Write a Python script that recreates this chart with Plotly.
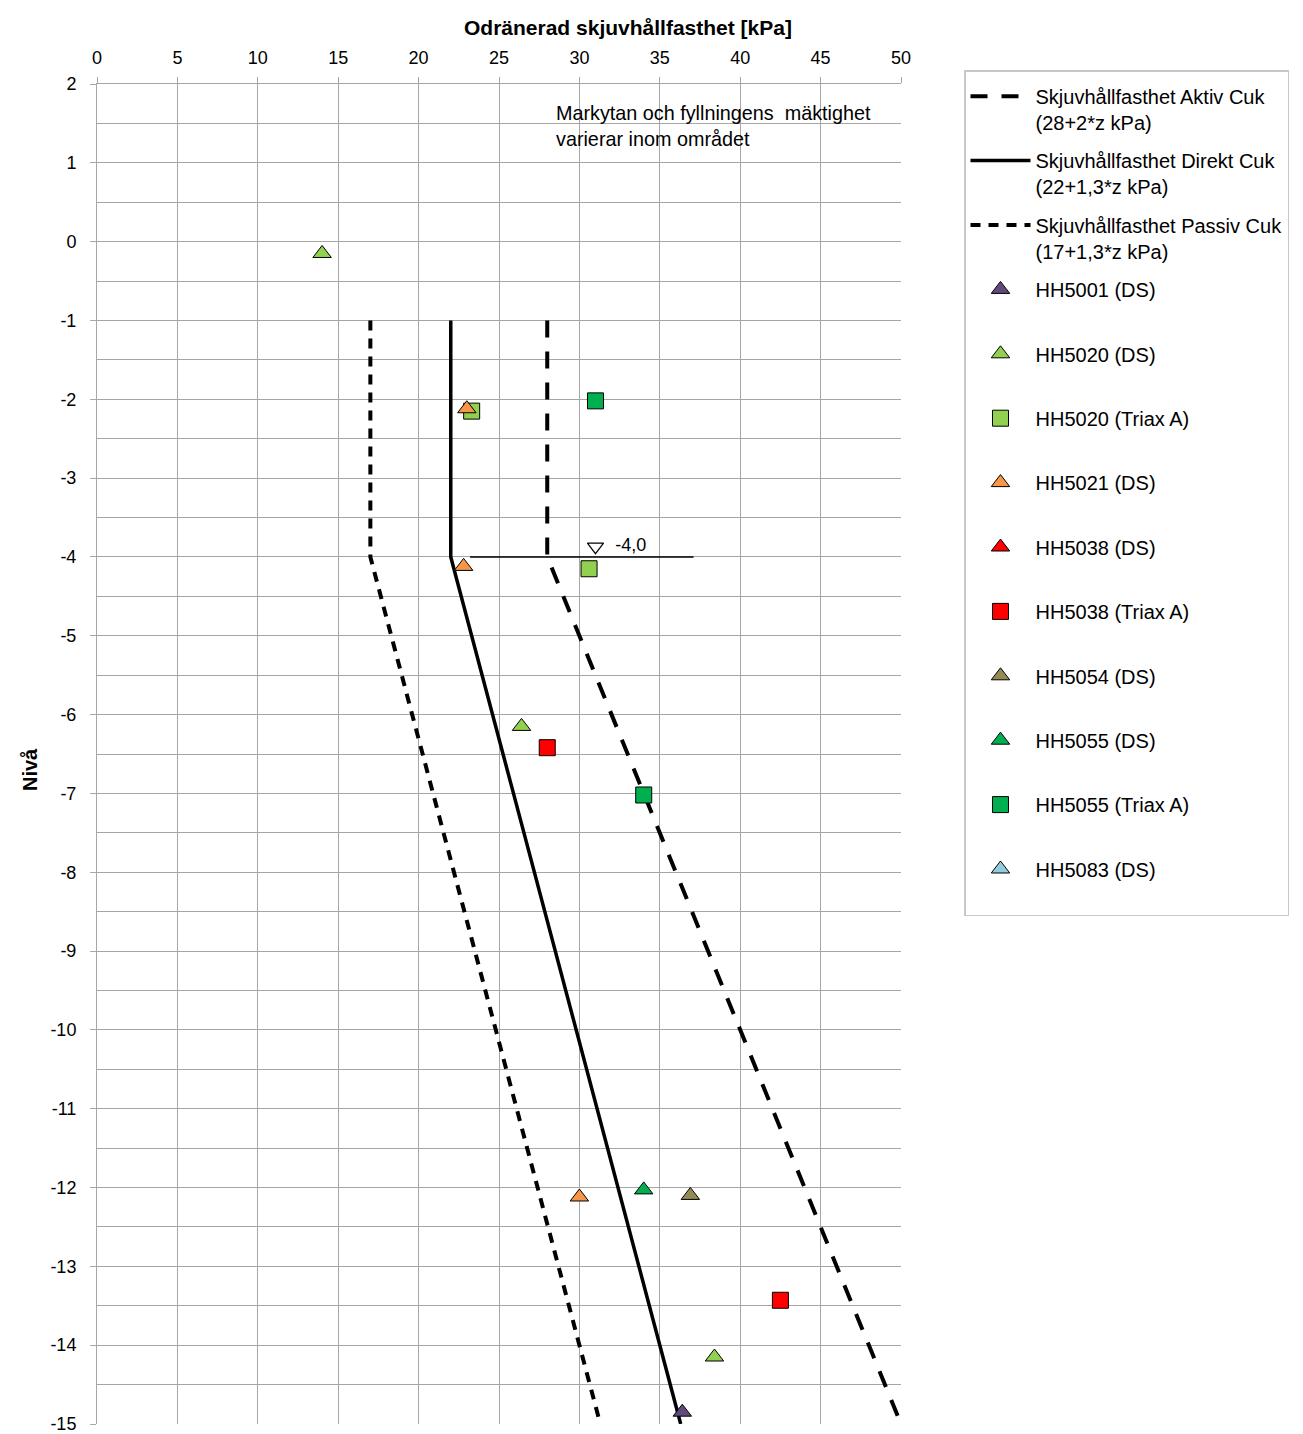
import plotly.graph_objects as go

# ---------------- data ----------------
x_ticks = [0, 5, 10, 15, 20, 25, 30, 35, 40, 45, 50]
y_ticks = [2, 1, 0, -1, -2, -3, -4, -5, -6, -7, -8, -9, -10, -11, -12, -13, -14, -15]
y_tick_labels = ["2", "1", "0", "-1", "-2", "-3", "-4", "-5", "-6", "-7", "-8",
                 "-9", "-10", "-11", "-12", "-13", "-14", "-15"]

level = [-1, -4, -15]
aktiv_cu = [28, 28, 50]
direkt_cu = [22, 22, 36.3]
passiv_cu = [17, 17, 31.3]

hh5001_ds_x = [36.4]
hh5001_ds_y = [-14.85]
hh5020_ds_x = [14.0, 26.4, 38.4]
hh5020_ds_y = [-0.15, -6.15, -14.15]
hh5020_tx_x = [23.3, 30.6]
hh5020_tx_y = [-2.15, -4.15]
hh5021_ds_x = [23.0, 22.8, 30.0]
hh5021_ds_y = [-2.12, -4.12, -12.12]
hh5038_ds_x = []
hh5038_ds_y = []
hh5038_tx_x = [28.0, 42.5]
hh5038_tx_y = [-6.42, -13.43]
hh5054_ds_x = [36.9]
hh5054_ds_y = [-12.1]
hh5055_ds_x = [34.0]
hh5055_ds_y = [-12.03]
hh5055_tx_x = [31.0, 34.0]
hh5055_tx_y = [-2.02, -7.02]
hh5083_ds_x = []
hh5083_ds_y = []

gw_line_x = [23.2, 37.1]
gw_level = -4.0
gw_marker_x = [31.0]
gw_marker_y = [-3.87]
gw_label = "-4,0"

note_text = "Markytan och fyllningens  mäktighet<br>varierar inom området"
x_title = "Odränerad skjuvhållfasthet [kPa]"
y_title = "Nivå"

# ---------------- figure ----------------
FONT = "Liberation Sans, Arial, sans-serif"
fig = go.Figure()

line_specs = [
    ("Skjuvhållfasthet Aktiv Cuk<br>(28+2*z kPa)", aktiv_cu, dict(color="black", width=4, dash="17px,14px")),
    ("Skjuvhållfasthet Direkt Cuk<br>(22+1,3*z kPa)", direkt_cu, dict(color="black", width=3.5)),
    ("Skjuvhållfasthet Passiv Cuk<br>(17+1,3*z kPa)", passiv_cu, dict(color="black", width=4, dash="10px,8px")),
]
for i, (name, xs, ln) in enumerate(line_specs):
    fig.add_trace(go.Scatter(x=xs, y=level, mode="lines", name=name, line=ln,
                             legendgroup=f"g{i}"))

pt_specs = [
    ("HH5001 (DS)", hh5001_ds_x, hh5001_ds_y, "triangle-up", "#604A7B"),
    ("HH5020 (DS)", hh5020_ds_x, hh5020_ds_y, "triangle-up", "#92D050"),
    ("HH5020 (Triax A)", hh5020_tx_x, hh5020_tx_y, "square", "#92D050"),
    ("HH5021 (DS)", hh5021_ds_x, hh5021_ds_y, "triangle-up", "#F79646"),
    ("HH5038 (DS)", hh5038_ds_x, hh5038_ds_y, "triangle-up", "#FF0000"),
    ("HH5038 (Triax A)", hh5038_tx_x, hh5038_tx_y, "square", "#FF0000"),
    ("HH5054 (DS)", hh5054_ds_x, hh5054_ds_y, "triangle-up", "#948A54"),
    ("HH5055 (DS)", hh5055_ds_x, hh5055_ds_y, "triangle-up", "#00B050"),
    ("HH5055 (Triax A)", hh5055_tx_x, hh5055_tx_y, "square", "#00B050"),
    ("HH5083 (DS)", hh5083_ds_x, hh5083_ds_y, "triangle-up", "#93CDDD"),
]
for j, (name, xs, ys, sym, col) in enumerate(pt_specs):
    size = 16 if sym == "square" else 16
    fig.add_trace(go.Scatter(
        x=xs if xs else [None], y=ys if ys else [None], mode="markers",
        name=name + "<br> ",
        marker=dict(symbol=sym, size=size, color=col, line=dict(color="black", width=1)),
        legendgroup=f"p{j}"))

# groundwater level
fig.add_trace(go.Scatter(x=gw_line_x, y=[gw_level, gw_level], mode="lines",
                         line=dict(color="black", width=1.5), showlegend=False, hoverinfo="skip"))
fig.add_trace(go.Scatter(x=gw_marker_x, y=gw_marker_y, mode="markers+text",
                         marker=dict(symbol="triangle-down", size=14, color="white",
                                     line=dict(color="black", width=1.2)),
                         text=["  " + gw_label], textposition="middle right",
                         textfont=dict(family=FONT, size=18, color="black"),
                         showlegend=False, hoverinfo="skip"))

fig.add_annotation(x=28.4, y=1.80, xref="x", yref="y", text=note_text,
                   showarrow=False, xanchor="left", yanchor="top", align="left",
                   font=dict(family=FONT, size=19.8, color="black"))

# axis titles (placed as in the reference)
fig.add_annotation(x=(628 - 97) / 804, y=(1424 - 27) / 1340, xref="paper", yref="paper",
                   text=f"<b>{x_title}</b>", showarrow=False, xanchor="center", yanchor="middle",
                   font=dict(family=FONT, size=21, color="black"))
fig.add_annotation(x=(30 - 97) / 804, y=(1424 - 770) / 1340, xref="paper", yref="paper",
                   text=f"<b>{y_title}</b>", showarrow=False, xanchor="center", yanchor="middle",
                   textangle=-90, font=dict(family=FONT, size=20, color="black"))

GRID = "#a6a6a6"
fig.update_layout(
    width=1303, height=1434,
    margin=dict(l=97, r=402, t=84, b=10, autoexpand=False),
    paper_bgcolor="white", plot_bgcolor="white",
    font=dict(family=FONT, size=18, color="black"),
    xaxis=dict(range=[0, 50], side="top", tickvals=x_ticks, showgrid=True,
               gridcolor=GRID, gridwidth=1, zeroline=False,
               showline=True, linecolor=GRID, linewidth=1, mirror=False,
               ticks="outside", ticklen=6, tickcolor=GRID, ticklabelstandoff=6,
               ticklabeloverflow="allow",
               tickfont=dict(family=FONT, size=18)),
    yaxis=dict(range=[-15, 2], tickvals=y_ticks, ticktext=y_tick_labels,
               showgrid=True, gridcolor=GRID, gridwidth=1, zeroline=False,
               showline=True, linecolor=GRID, linewidth=1,
               ticks="outside", ticklen=6, tickcolor=GRID, ticklabelstandoff=10,
               ticklabeloverflow="allow",
               tickfont=dict(family=FONT, size=18),
               minor=dict(dtick=0.5, tick0=0, showgrid=True, gridcolor=GRID, gridwidth=1)),
    legend=dict(x=(964 - 97) / 804, y=(1424 - 70) / 1340, xanchor="left", yanchor="top",
                bgcolor="white", bordercolor="#c8c8c8", borderwidth=1.5,
                font=dict(family=FONT, size=20, color="black"),
                title=dict(text=" ", font=dict(size=4)),
                valign="top", tracegroupgap=9.4, traceorder="grouped",
                itemwidth=60, maxheight=1300),
    showlegend=True,
)

fig.write_html("out.html")
